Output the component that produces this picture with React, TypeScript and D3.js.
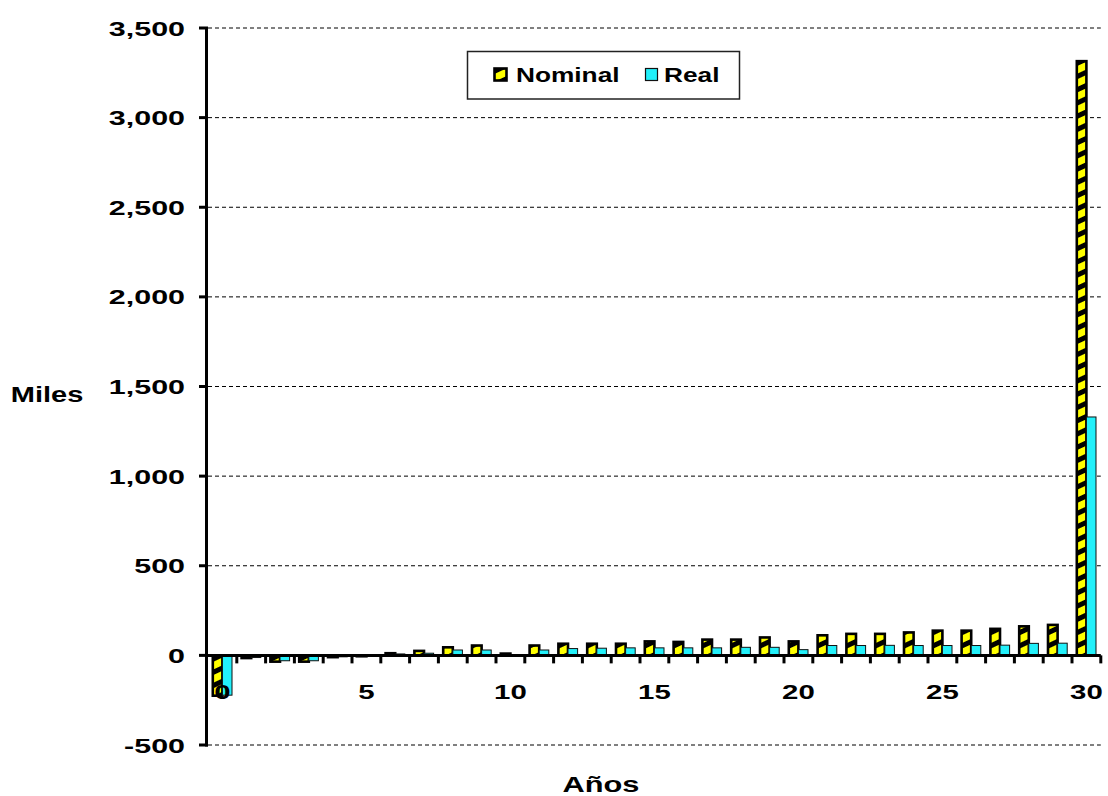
import * as d3 from 'd3';
import React, { useEffect, useRef } from 'react';

// years 0..30
const years = d3.range(0, 31).map(String);
const nominal = [-225, -15, -35, -35, -10, -5, 12, 25, 45, 55, 10, 55, 65, 65, 65, 78, 75, 88, 88, 100, 78, 112, 120, 120, 128, 138, 138, 148, 162, 170, 3315];
const real = [-222, -12, -30, -30, -8, -4, 8, 12, 30, 30, 4, 30, 38, 40, 42, 42, 42, 42, 45, 45, 32, 55, 55, 56, 55, 55, 55, 57, 67, 68, 1330];
const yTicks = [-500, 0, 500, 1000, 1500, 2000, 2500, 3000, 3500];
const xLabels = ['0', '5', '10', '15', '20', '25', '30'];
const seriesNames = ['Nominal', 'Real'];

const W = 1108;
const H = 796;
const FONT = 'Liberation Sans, Arial, sans-serif';

export default function App() {
  const ref = useRef<SVGSVGElement>(null);

  useEffect(() => {
    const svg = d3.select(ref.current);
    svg.selectAll('*').remove();

    const left = 208, right = 1100.8, top = 28, bottom = 745;

    const x = d3.scaleBand().domain(years).range([left, right]).paddingInner(1 / 3).paddingOuter(1 / 6);
    const xs = d3.scaleBand().domain(seriesNames).range([0, x.bandwidth()]);
    const y = d3.scaleLinear().domain([-500, 3500]).range([bottom, top]);

    // hatch for nominal bars
    const defs = svg.append('defs');
    const pat = defs.append('pattern')
      .attr('id', 'hatch')
      .attr('patternUnits', 'userSpaceOnUse')
      .attr('width', 12)
      .attr('height', 12)
      .attr('patternTransform', 'rotate(-25)');
    pat.append('rect').attr('width', 12).attr('height', 12).attr('fill', '#000');
    pat.append('rect').attr('width', 12).attr('height', 7).attr('fill', '#ffff00');

    // Excel stretched the text sideways
    const txt = (g: any, tx: number, ty: number, s: string, size: number, anchor: string, sx: number) =>
      g.append('text')
        .attr('transform', 'translate(' + tx + ',' + ty + ') scale(' + sx + ',1)')
        .attr('text-anchor', anchor)
        .attr('font-family', FONT)
        .attr('font-weight', 'bold')
        .attr('font-size', size)
        .attr('fill', '#000')
        .text(s);

    // gridlines
    svg.append('g').selectAll('line')
      .data(yTicks.filter(d => d !== 0))
      .enter().append('line')
      .attr('x1', left).attr('x2', right)
      .attr('y1', d => y(d)).attr('y2', d => y(d))
      .attr('stroke', '#000')
      .attr('stroke-width', 1)
      .attr('stroke-dasharray', '4,3');

    // bars
    const data = years.map((yr, i) => ({ yr, vals: [nominal[i], real[i]] }));
    const groups = svg.append('g').selectAll('g')
      .data(data)
      .enter().append('g')
      .attr('transform', d => 'translate(' + x(d.yr) + ',0)');

    groups.append('rect')
      .attr('x', xs('Nominal')!)
      .attr('width', xs.bandwidth())
      .attr('y', d => y(Math.max(0, d.vals[0])))
      .attr('height', d => Math.abs(y(d.vals[0]) - y(0)))
      .attr('fill', 'url(#hatch)')
      .attr('stroke', '#000')
      .attr('stroke-width', 2.6);

    groups.append('rect')
      .attr('x', xs('Real')!)
      .attr('width', xs.bandwidth())
      .attr('y', d => y(Math.max(0, d.vals[1])))
      .attr('height', d => Math.abs(y(d.vals[1]) - y(0)))
      .attr('fill', '#22f0fa')
      .attr('stroke', '#111')
      .attr('stroke-width', 1);

    // x axis line and ticks between categories
    const axes = svg.append('g').attr('stroke', '#000');
    axes.append('line')
      .attr('x1', left).attr('x2', right)
      .attr('y1', y(0)).attr('y2', y(0))
      .attr('stroke-width', 3);
    axes.selectAll('.xt')
      .data(years)
      .enter().append('line')
      .attr('class', 'xt')
      .attr('x1', d => x(d)! + x.bandwidth() + x.step() / 6)
      .attr('x2', d => x(d)! + x.bandwidth() + x.step() / 6)
      .attr('y1', y(0))
      .attr('y2', y(0) + 8)
      .attr('stroke-width', 3);

    // y axis
    axes.append('line')
      .attr('x1', left - 1.5).attr('x2', left - 1.5)
      .attr('y1', top - 1).attr('y2', bottom + 1.5)
      .attr('stroke-width', 3);
    axes.selectAll('.yt')
      .data(yTicks)
      .enter().append('line')
      .attr('class', 'yt')
      .attr('x1', left - 9).attr('x2', left)
      .attr('y1', d => y(d)).attr('y2', d => y(d))
      .attr('stroke-width', 3);

    const fmt = (v: number) => d3.format(',')(v).replace('\u2212', '-');
    const lab = svg.append('g');
    yTicks.forEach(t => txt(lab, 185, y(t) + 7.5, fmt(t), 21, 'end', 1.45));
    xLabels.forEach(t => txt(lab, x(t)! + x.bandwidth() / 2, 699, t, 21, 'middle', 1.4));

    txt(lab, 47, 402, 'Miles', 22, 'middle', 1.32);
    txt(lab, 601, 792, 'Años', 22, 'middle', 1.4);

    // legend
    const lg = svg.append('g');
    lg.append('rect')
      .attr('x', 467.5).attr('y', 51.5).attr('width', 272).attr('height', 47.5)
      .attr('fill', '#fff').attr('stroke', '#222').attr('stroke-width', 1.5);
    lg.append('rect')
      .attr('x', 494.5).attr('y', 68.5).attr('width', 12).attr('height', 12)
      .attr('fill', 'url(#hatch)').attr('stroke', '#000').attr('stroke-width', 2.6);
    txt(lg, 516, 82, 'Nominal', 21, 'start', 1.25);
    lg.append('rect')
      .attr('x', 645.5).attr('y', 68.5).attr('width', 12).attr('height', 12)
      .attr('fill', '#22f0fa').attr('stroke', '#111').attr('stroke-width', 1.2);
    txt(lg, 664, 82, 'Real', 21, 'start', 1.25);
  }, []);

  return (
    <div style={{ position: 'absolute', left: 0, top: 0, width: W, height: H, background: '#fff' }}>
      <svg ref={ref} width={W} height={H}></svg>
    </div>
  );
}
